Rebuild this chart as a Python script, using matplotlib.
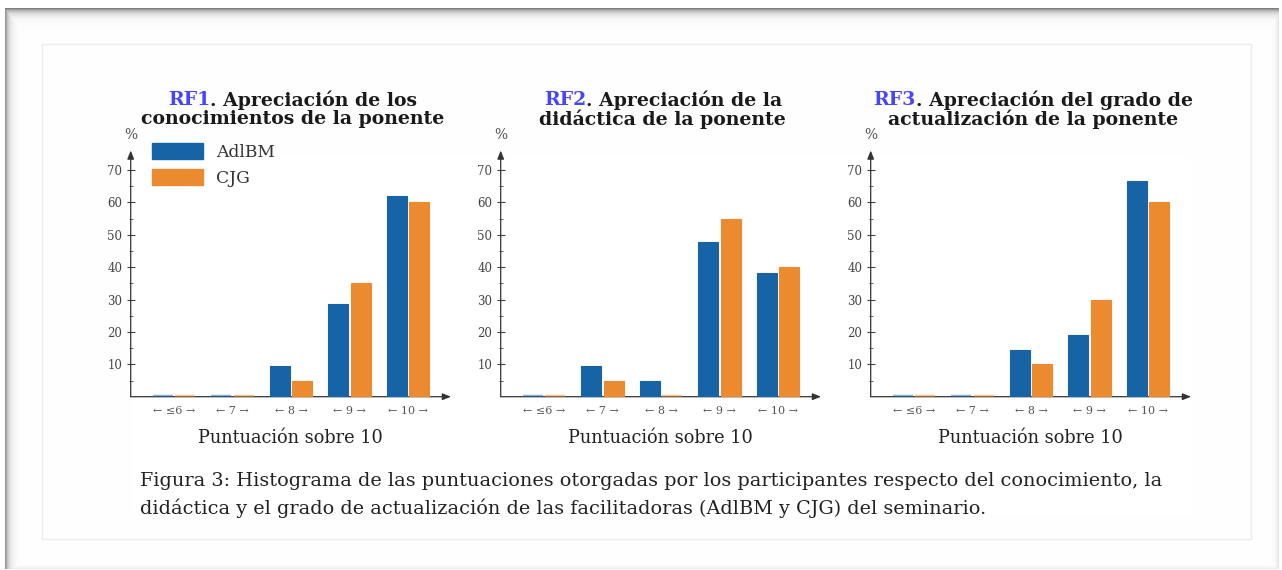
import numpy as np
import matplotlib
matplotlib.use("Agg")
import matplotlib.pyplot as plt
from matplotlib.patches import Patch, Rectangle

# ---- data -------------------------------------------------------------
categories = ["≤6", "7", "8", "9", "10"]
series_names = ["AdlBM", "CJG"]

rf1_adlbm = [0, 0, 9.52, 28.57, 61.90]
rf1_cjg = [0, 0, 5.0, 35.0, 60.0]
rf2_adlbm = [0, 9.52, 4.76, 47.62, 38.10]
rf2_cjg = [0, 5.0, 0, 55.0, 40.0]
rf3_adlbm = [0, 0, 14.29, 19.05, 66.67]
rf3_cjg = [0, 0, 10.0, 30.0, 60.0]

panel_tags = ["RF1", "RF2", "RF3"]
panel_titles = [
    (". Apreciación de los", "conocimientos de la ponente"),
    (". Apreciación de la", "didáctica de la ponente"),
    (". Apreciación del grado de", "actualización de la ponente"),
]
y_ticks = [10, 20, 30, 40, 50, 60, 70]
x_label = "Puntuación sobre 10"
y_unit = "%"
caption_lines = [
    "Figura 3: Histograma de las puntuaciones otorgadas por los participantes respecto del conocimiento, la",
    "didáctica y el grado de actualización de las facilitadoras (AdlBM y CJG) del seminario.",
]

# ---- style ------------------------------------------------------------
BLUE = "#1664a6"
ORANGE = "#ec8a2f"
TAG = "#4646ff"
SERIF = ["DejaVu Serif", "DejaVu Sans"]

W, H = 1282, 570
fig = plt.figure(figsize=(W / 100, H / 100), dpi=100)
fig.patch.set_facecolor("white")


def fx(px):
    return px / W


def fy(py):
    return 1 - py / H


# page frame with a soft shadow on its top and left edges
yy, xx = np.mgrid[0:H, 0:W]
inside = (xx >= 5) & (xx <= 1278) & (yy >= 8) & (yy <= 568)
top = 1 - 0.50 * np.exp(-(yy - 8) / 4.0)
left = 1 - 0.42 * np.exp(-(xx - 5) / 3.5)
right = 1 - 0.10 * np.exp(-(1278 - xx) / 2.5)
bottom = 1 - 0.08 * np.exp(-(568 - yy) / 1.5)
shade = np.minimum.reduce([top, left, right, bottom])
bg = np.where(inside, shade, 1.0)
ax_bg = fig.add_axes([0, 0, 1, 1], zorder=-10)
ax_bg.imshow(np.dstack([bg, bg, bg]), extent=(0, W, H, 0), aspect="auto",
             interpolation="bilinear")
ax_bg.set_xlim(0, W)
ax_bg.set_ylim(H, 0)
ax_bg.axis("off")
ax_bg.add_patch(Rectangle((42, 44), 1251 - 42, 539 - 44, fill=False,
                          edgecolor="#ebebeb", lw=1.0))

# ---- panels -----------------------------------------------------------
panels = [(rf1_adlbm, rf1_cjg), (rf2_adlbm, rf2_cjg), (rf3_adlbm, rf3_cjg)]
x_left0, x_right0 = 130.7, 451.0
y_top, y_bot = 150.5, 396.7
x_lo, x_hi = -0.74, 4.735
y_hi = 76.0
bar_w = 0.34
off = 0.19

fig.canvas.draw()
renderer = fig.canvas.get_renderer()

for k, (adl, cjg) in enumerate(panels):
    l = x_left0 + 370 * k
    r = x_right0 + 370 * k
    ax = fig.add_axes([fx(l), fy(y_bot), fx(r - l), (y_bot - y_top) / H])
    ax.set_xlim(x_lo, x_hi)
    ax.set_ylim(0, y_hi)
    for s in ax.spines.values():
        s.set_visible(False)
    ax.patch.set_visible(False)

    x = np.arange(len(categories))
    b1 = ax.bar(x - off, adl, bar_w, color=BLUE, edgecolor=BLUE, lw=0.8, zorder=3)
    b2 = ax.bar(x + off, cjg, bar_w, color=ORANGE, edgecolor=ORANGE, lw=0.8, zorder=3)
    for bars in (b1, b2):
        for b in bars:
            if b.get_height() == 0:
                b.set_linewidth(3.2)
                b.set_alpha(0.5)

    # axis lines with arrow heads
    arrow = dict(arrowstyle="-|>,head_length=0.5,head_width=0.2",
                 color="#333333", lw=0.9, shrinkA=0, shrinkB=0)
    ax.annotate("", xy=(1, 0), xytext=(0, 0), xycoords="axes fraction",
                arrowprops=arrow, zorder=2)
    ax.annotate("", xy=(0, 1), xytext=(0, 0), xycoords="axes fraction",
                arrowprops=arrow, zorder=2)

    ax.set_yticks(y_ticks)
    ax.set_yticks([5, 15, 25, 35, 45, 55, 65], minor=True)
    ax.set_yticklabels([str(v) for v in y_ticks], family=SERIF, fontsize=8.5,
                       color="#444444")
    ax.tick_params(axis="y", which="major", direction="inout", length=6,
                   width=0.8, color="#444444", pad=3)
    ax.tick_params(axis="y", which="minor", direction="inout", length=3,
                   width=0.7, color="#666666")
    ax.set_xticks(x)
    ax.set_xticklabels(["← " + c + " →" for c in categories], family=SERIF,
                       fontsize=8, color="#555555")
    ax.tick_params(axis="x", length=0, pad=7)

    ax.set_xlabel(x_label, family=SERIF, fontsize=12.8, color="#222222",
                  labelpad=9)
    ax.text(0, 1.035, y_unit, transform=ax.transAxes, ha="center", va="bottom",
            family=SERIF, fontsize=10, color="#555555")

    if k == 0:
        handles = [Patch(facecolor=BLUE, edgecolor=BLUE),
                   Patch(facecolor=ORANGE, edgecolor=ORANGE)]
        leg = ax.legend(handles, series_names, loc="upper left",
                        bbox_to_anchor=(fx(152), fy(143)),
                        bbox_transform=fig.transFigure, frameon=False,
                        prop=dict(family=SERIF, size=12.3), handlelength=3.0,
                        handleheight=1.1, handletextpad=0.75, labelspacing=0.45,
                        borderpad=0, borderaxespad=0)
        for t in leg.get_texts():
            t.set_color("#333333")

    # two-line bold title; the tag is drawn in blue
    cx = (l + r) / 2 + 2
    t_tag = fig.text(0, 0, panel_tags[k], family=SERIF, fontsize=13.6,
                     fontweight="bold", color=TAG, va="center")
    t_rest = fig.text(0, 0, panel_titles[k][0], family=SERIF, fontsize=13.6,
                      fontweight="bold", color="#1a1a1a", va="center")
    w1 = t_tag.get_window_extent(renderer).width
    w2 = t_rest.get_window_extent(renderer).width
    x0 = cx - (w1 + w2) / 2
    t_tag.set_position((fx(x0), fy(100)))
    t_rest.set_position((fx(x0 + w1), fy(100)))
    fig.text(fx(cx), fy(119), panel_titles[k][1], family=SERIF, fontsize=13.6,
             fontweight="bold", color="#1a1a1a", ha="center", va="center")

# ---- caption ----------------------------------------------------------
fig.text(fx(140), fy(481), caption_lines[0], family=SERIF, fontsize=13.9,
         color="#222222", ha="left", va="center")
fig.text(fx(140), fy(508), caption_lines[1], family=SERIF, fontsize=13.9,
         color="#222222", ha="left", va="center")

fig.savefig("out.png", dpi=100, facecolor="white")
